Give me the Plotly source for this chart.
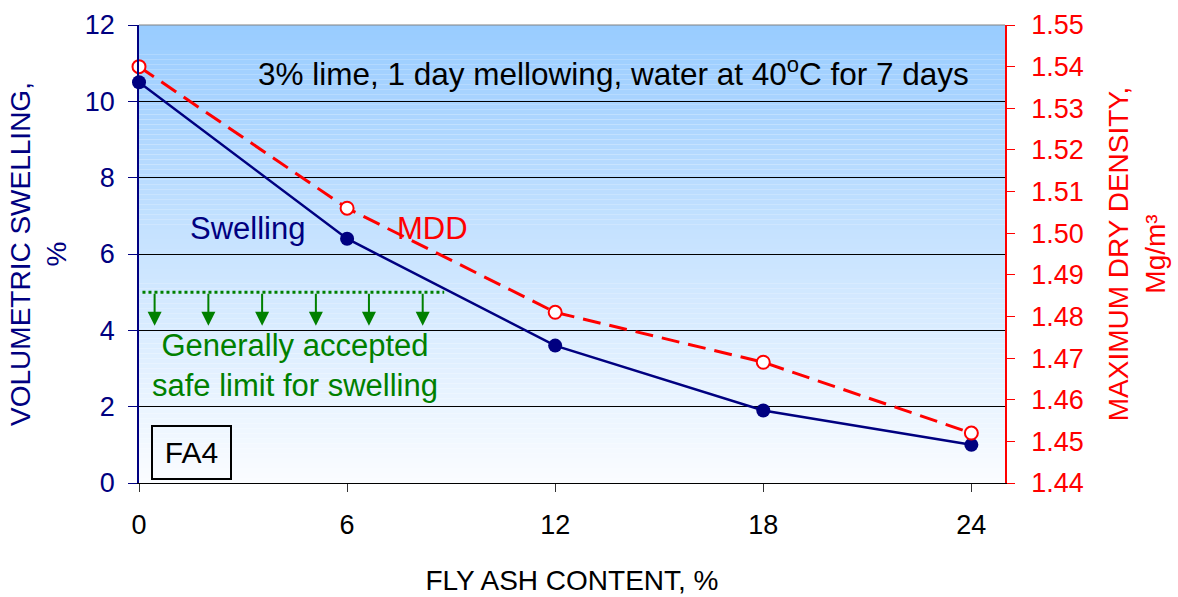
import plotly.graph_objects as go

# ---- data ----
fly_ash = [0, 6, 12, 18, 24]
swelling = [10.5, 6.4, 3.6, 1.9, 1.0]
mdd = [1.540, 1.506, 1.481, 1.469, 1.452]
x_ticks = [0, 6, 12, 18, 24]
safe_limit = 5.0
limit_span = [0.1, 8.8]
arrow_x = [0.45, 2.0, 3.55, 5.1, 6.63, 8.18]
arrow_tip = 4.12

FONT = "Liberation Sans, Arial, sans-serif"
NAVY = "#000080"
RED = "#FF0000"
GREEN = "#008000"

fig = go.Figure()

# MDD (right axis)
fig.add_trace(go.Scatter(
    x=fly_ash, y=mdd, yaxis="y2", mode="lines+markers", name="MDD",
    line=dict(color=RED, width=3, dash="18px,9px"),
    marker=dict(size=13, color="white", line=dict(color=RED, width=2)),
    cliponaxis=False, showlegend=False))

# Swelling (left axis)
fig.add_trace(go.Scatter(
    x=fly_ash, y=swelling, mode="lines+markers", name="Swelling",
    line=dict(color=NAVY, width=2.5),
    marker=dict(size=14, color=NAVY),
    cliponaxis=False, showlegend=False))

# safe limit line
fig.add_trace(go.Scatter(
    x=limit_span, y=[safe_limit, safe_limit], mode="lines",
    line=dict(color=GREEN, width=3, dash="3px,3px"),
    showlegend=False, hoverinfo="skip"))

# background gradient bands
shapes = []
n = 92
top = (153, 204, 255)
bot = (250, 252, 255)
for i in range(n):
    t = i / (n - 1)
    c = tuple(round(top[k] + (bot[k] - top[k]) * t) for k in range(3))
    shapes.append(dict(type="rect", xref="x domain", yref="y domain",
                       x0=0, x1=1, y0=1 - (i + 1) / n, y1=1 - i / n,
                       fillcolor="rgb(%d,%d,%d)" % c, line=dict(width=0),
                       layer="below"))
shapes.append(dict(type="line", xref="x domain", yref="y domain",
                   x0=0, x1=1, y0=1, y1=1, line=dict(color="#808080", width=1)))

annotations = [
    dict(x=13.67, y=10.77, xref="x", yref="y",
         text="3% lime, 1 day mellowing, water at 40<sup>o</sup>C for 7 days",
         showarrow=False, font=dict(family=FONT, size=31.5, color="black")),
    dict(x=3.14, y=6.68, xref="x", yref="y", text="Swelling", showarrow=False,
         font=dict(family=FONT, size=31, color=NAVY)),
    dict(x=8.45, y=6.68, xref="x", yref="y", text="MDD", showarrow=False,
         font=dict(family=FONT, size=31, color=RED)),
    dict(x=4.5, y=3.09, xref="x", yref="y",
         text="Generally accepted<br>safe limit for swelling", showarrow=False,
         font=dict(family=FONT, size=31, color=GREEN)),
    dict(x=1.52, y=0.81, xref="x", yref="y", text="FA4", showarrow=False,
         font=dict(family=FONT, size=30, color="black"),
         width=75, height=49, borderpad=1,
         bordercolor="black", borderwidth=2, bgcolor="rgba(0,0,0,0)"),
]
for xa in arrow_x:
    annotations.append(dict(
        x=xa, y=arrow_tip, xref="x", yref="y", ax=xa, ay=safe_limit,
        axref="x", ayref="y", text="", showarrow=True,
        arrowhead=2, arrowsize=1.4, arrowwidth=2, arrowcolor=GREEN))

fig.update_layout(
    width=1178, height=597,
    margin=dict(l=139, r=173, t=25, b=114),
    paper_bgcolor="white", plot_bgcolor="rgba(0,0,0,0)",
    font=dict(family=FONT, size=27),
    shapes=shapes, annotations=annotations,
    xaxis=dict(range=[0, 24.97], tickvals=x_ticks, ticks="outside", ticklen=8,
               tickcolor="#333333", showline=True, linecolor="black", linewidth=1,
               showgrid=False, zeroline=False, ticklabelstandoff=10, automargin=False,
               tickfont=dict(family=FONT, size=27, color="black"),
               title=dict(text="FLY ASH CONTENT, %", standoff=30,
                          font=dict(family=FONT, size=28, color="black"))),
    yaxis=dict(range=[0, 12], dtick=2, ticks="outside", ticklen=9, tickcolor=NAVY,
               showline=True, linecolor=NAVY, linewidth=1.5, automargin=False,
               showgrid=True, gridcolor="black", gridwidth=1, zeroline=False,
               ticklabelstandoff=8,
               tickfont=dict(family=FONT, size=27, color=NAVY),
               title=dict(text="VOLUMETRIC SWELLING,<br>%", standoff=10,
                          font=dict(family=FONT, size=28, color=NAVY))),
    yaxis2=dict(range=[1.44, 1.55], dtick=0.01, tickformat=".2f", overlaying="y",
                side="right", anchor="x", ticks="outside", ticklen=8, tickcolor=RED,
                showline=True, linecolor=RED, linewidth=1.5, showgrid=False,
                zeroline=False, ticklabelstandoff=11, automargin=False,
                tickfont=dict(family=FONT, size=27, color=RED),
                title=dict(text="MAXIMUM DRY DENSITY,<br>Mg/m³", standoff=26,
                           font=dict(family=FONT, size=28, color=RED))),
    yaxis3=dict(range=[1.44, 1.55], dtick=0.01, overlaying="y", side="right",
                anchor="x", ticks="inside", ticklen=8, tickcolor=RED, automargin=False,
                showticklabels=False, showline=False, showgrid=False, zeroline=False),
)

fig.write_html("out.html")
